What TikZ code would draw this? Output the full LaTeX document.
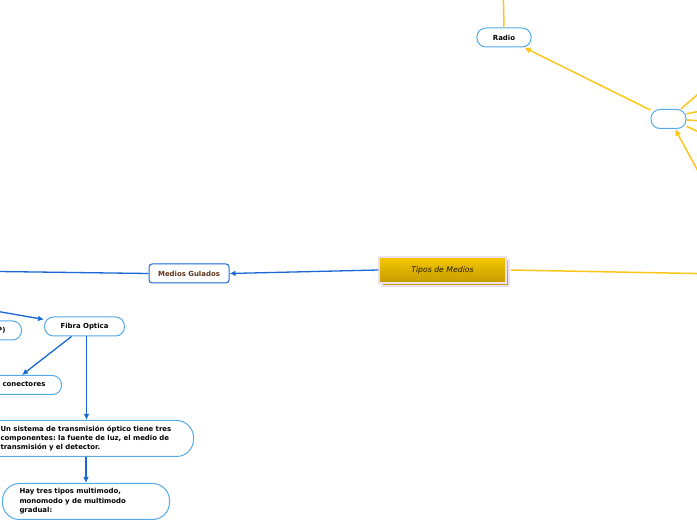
\documentclass[tikz,border=0pt]{standalone}
\usepackage{fontspec}
\setmainfont{DejaVu Sans}
\usetikzlibrary{arrows.meta}
\newlength\pxunit
\setlength\pxunit{0.75pt}
\definecolor{MapaAzul}{RGB}{24,104,214}
\definecolor{MapaBorde}{RGB}{86,170,232}
\definecolor{MapaAmarillo}{RGB}{255,198,26}
\definecolor{MapaOroClaro}{RGB}{245,200,0}
\definecolor{MapaOroOscuro}{RGB}{196,154,0}
\definecolor{MapaMarron}{RGB}{92,51,23}
\definecolor{MapaLila}{RGB}{236,224,238}
\frenchspacing

\begin{document}
\begin{tikzpicture}[x=1\pxunit,y=-1\pxunit,
  txt/.style={font=\fontsize{5.2}{7.1}\selectfont\bfseries},
  pill/.style={txt,draw=MapaBorde,line width=1\pxunit,fill=white,rounded corners=9\pxunit,minimum height=19\pxunit,inner xsep=16\pxunit,inner ysep=0pt},
  caja/.style={pill,rounded corners=17\pxunit,align=left,minimum height=36\pxunit,inner xsep=17\pxunit},
  tema/.style={draw=MapaLila,line width=1.2\pxunit,top color=MapaOroClaro,bottom color=MapaOroOscuro,minimum width=127\pxunit,minimum height=26\pxunit,font=\fontsize{5.8}{7}\selectfont\itshape,text=black!85!MapaOroOscuro},
  azul/.style={draw=MapaAzul,line width=1.3\pxunit,-{Latex[length=4.5pt,width=4.2pt]}},
  amarillo/.style={draw=MapaAmarillo,line width=1.5\pxunit,-{Latex[length=5pt,width=4.8pt]}}]
\useasboundingbox (0,0) rectangle (697,520);
\fill[white] (0,0) rectangle (697,520);

\node[tema] (tiposSombra) at (445.5,273) {};
\node[tema] (tipos) at (442.5,270) {Tipos de Medios};
\node[txt,draw=MapaAzul,line width=1\pxunit,fill=white,rounded corners=3\pxunit,minimum width=80\pxunit,minimum height=19\pxunit,text=MapaMarron] (gulados) at (189,273.5) {Medios Gulados};

\node[pill] (fibra) at (84.5,326.5) {Fibra Optica};
\node[pill,anchor=east] (par) at (22,330.5) {Par Trenzado (UTP)};
\node[pill,anchor=east] (conect) at (62,385) {Tipos de conectores};
\node[caja,anchor=north east,text width=176\pxunit] (sistema) at (194,420)
  {Un sistema de transmisión óptico tiene tres\\componentes: la fuente de luz, el medio de\\transmisión y el detector.};
\node[caja,anchor=north west,text width=133\pxunit] (hay) at (2,483)
  {Hay tres tipos multimodo,\\monomodo y de multimodo\\gradual:};

\node[pill] (radio) at (504,37.5) {Radio};
\node[pill,minimum width=35\pxunit] (vacio) at (668.5,119) {};

\coordinate (guiIzq) at (-40,271);
\coordinate (fibraPadre) at (-30,306.6);
\coordinate (derecha) at (720,274);
\coordinate (radioArriba) at (503,-20);
\coordinate (subida) at (710,193);

\draw[azul] (tipos.west) -- (gulados.east);
\draw[azul,-] (gulados.west) -- (guiIzq);
\draw[azul] (fibraPadre) -- (fibra);
\draw[azul] ([xshift=-13\pxunit]fibra.south) -- ([xshift=-40\pxunit]conect.north east);
\draw[azul] ([xshift=2\pxunit]fibra.south) -- ([xshift=2\pxunit]fibra.south |- sistema.north);
\draw[azul] (hay.north |- sistema.south) -- (hay.north);

\draw[amarillo,-] ([xshift=4\pxunit]tipos.east) -- (derecha);
\draw[amarillo,-] (radio.north) -- (radioArriba);
\draw[amarillo] (vacio) -- (radio);
\foreach \ang/\ex/\ey [count=\i] in {39/720/75,16/720/107,-3/720/122,-22/720/142} {
  \coordinate (rama\i) at (\ex,\ey);
  \draw[amarillo,-] (vacio.\ang) -- (rama\i);
}
\draw[amarillo] (subida) -- (vacio.-57);
\end{tikzpicture}
\end{document}
